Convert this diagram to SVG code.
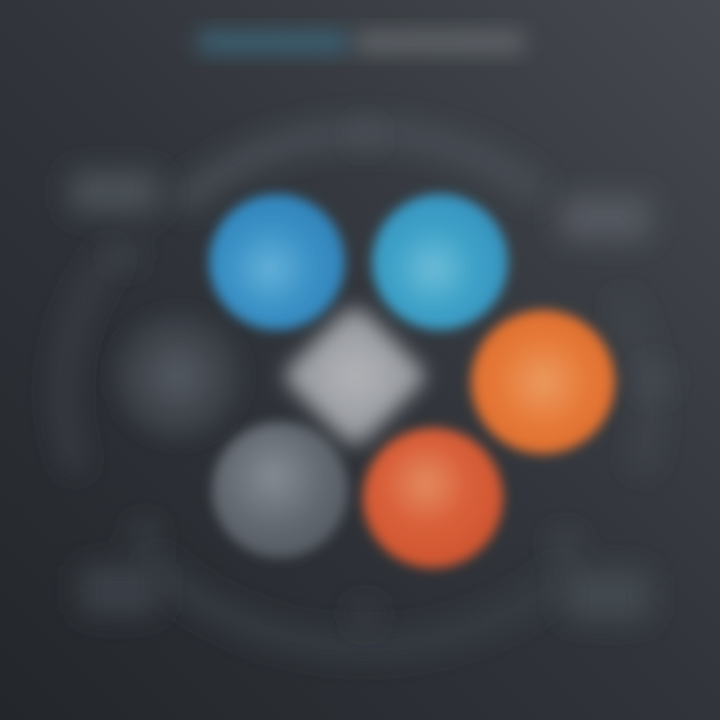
<svg xmlns="http://www.w3.org/2000/svg" width="720" height="720" viewBox="0 0 720 720">
<defs>
<linearGradient id="bg" x1="0" y1="1" x2="1" y2="0">
<stop offset="0" stop-color="#23262b"/>
<stop offset="0.5" stop-color="#31353b"/>
<stop offset="1" stop-color="#45494f"/>
</linearGradient>
<filter id="b6" x="-50%" y="-50%" width="200%" height="200%"><feGaussianBlur stdDeviation="6"/></filter>
<filter id="b10" x="-50%" y="-50%" width="200%" height="200%"><feGaussianBlur stdDeviation="10"/></filter>
<filter id="b14" x="-50%" y="-50%" width="200%" height="200%"><feGaussianBlur stdDeviation="14"/></filter>
<radialGradient id="gBlue1" cx="0.45" cy="0.55" r="0.6">
<stop offset="0" stop-color="#62b0d8"/><stop offset="0.5" stop-color="#3b92c6"/><stop offset="1" stop-color="#2f80b8"/>
</radialGradient>
<radialGradient id="gBlue2" cx="0.45" cy="0.55" r="0.6">
<stop offset="0" stop-color="#6cbcd8"/><stop offset="0.5" stop-color="#3ea2c8"/><stop offset="1" stop-color="#3590bd"/>
</radialGradient>
<radialGradient id="gOr1" cx="0.5" cy="0.5" r="0.6">
<stop offset="0" stop-color="#eb9a60"/><stop offset="0.5" stop-color="#e67a38"/><stop offset="1" stop-color="#dc6a2c"/>
</radialGradient>
<radialGradient id="gOr2" cx="0.45" cy="0.4" r="0.6">
<stop offset="0" stop-color="#e48a60"/><stop offset="0.5" stop-color="#d9603a"/><stop offset="1" stop-color="#cf5530"/>
</radialGradient>
<radialGradient id="gGrey" cx="0.45" cy="0.4" r="0.6">
<stop offset="0" stop-color="#858b92"/><stop offset="0.6" stop-color="#646a72"/><stop offset="1" stop-color="#555b63"/>
</radialGradient>
<radialGradient id="gDark" cx="0.5" cy="0.5" r="0.6">
<stop offset="0" stop-color="#565b62"/><stop offset="0.6" stop-color="#3d4249"/><stop offset="1" stop-color="#363a41"/>
</radialGradient>
<radialGradient id="gDia" cx="0.5" cy="0.5" r="0.6">
<stop offset="0" stop-color="#b2b4b8"/><stop offset="1" stop-color="#8c8f94"/>
</radialGradient>
</defs>
<rect width="720" height="720" fill="url(#bg)"/>

<g id="title" filter="url(#b10)">
<rect x="198" y="30" width="150" height="24" rx="6" fill="#3b5d6e"/>
<rect x="356" y="30" width="168" height="24" rx="6" fill="#5c6065"/>
</g>

<g id="ring" fill="none" filter="url(#b14)">
<path d="M 180 205 A 260 240 0 0 1 540 195" stroke="#4a4f57" stroke-width="24"/>
<path d="M 78 470 A 290 250 0 0 1 115 250" stroke-width="18" stroke="#3c4148"/>
<path d="M 150 560 A 280 240 0 0 0 570 570" stroke-width="22" stroke="#383d44"/>
<path d="M 620 300 A 290 250 0 0 1 640 470" stroke-width="18" stroke="#42474e"/>
</g>

<g id="labels" filter="url(#b14)">
<rect x="70" y="172" width="90" height="40" rx="8" fill="#4c5158"/>
<rect x="560" y="196" width="90" height="44" rx="8" fill="#545960"/>
<rect x="80" y="565" width="80" height="50" rx="8" fill="#3b4047"/>
<rect x="565" y="570" width="85" height="50" rx="8" fill="#43484f"/>
<circle cx="125" cy="255" r="12" fill="#43484f"/>
<circle cx="655" cy="380" r="14" fill="#4a4f56"/>
<circle cx="145" cy="535" r="12" fill="#41464d"/>
<circle cx="565" cy="545" r="12" fill="#464b52"/>
<circle cx="365" cy="135" r="10" fill="#52575e"/>
<circle cx="365" cy="615" r="12" fill="#3c4148"/>
</g>

<g id="node-dark" filter="url(#b10)">
<circle cx="178" cy="376" r="62" fill="url(#gDark)"/>
</g>
<g id="node-grey" filter="url(#b6)">
<circle cx="280" cy="490" r="68" fill="url(#gGrey)"/>
</g>
<g id="node-diamond" filter="url(#b10)">
<path d="M 355 308 Q 363 308 372 318 L 420 366 Q 430 376 420 386 L 372 434 Q 363 444 355 444 Q 347 444 338 434 L 290 386 Q 280 376 290 366 L 338 318 Q 347 308 355 308 Z" fill="url(#gDia)"/>
</g>
<g id="node-blue1" filter="url(#b6)">
<circle cx="277" cy="262" r="68" fill="url(#gBlue1)"/>
</g>
<g id="node-blue2" filter="url(#b6)">
<circle cx="440" cy="262" r="68" fill="url(#gBlue2)"/>
</g>
<g id="node-orange" filter="url(#b6)">
<circle cx="543" cy="382" r="72" fill="url(#gOr1)"/>
</g>
<g id="node-red" filter="url(#b6)">
<circle cx="433" cy="498" r="70" fill="url(#gOr2)"/>
</g>
</svg>
